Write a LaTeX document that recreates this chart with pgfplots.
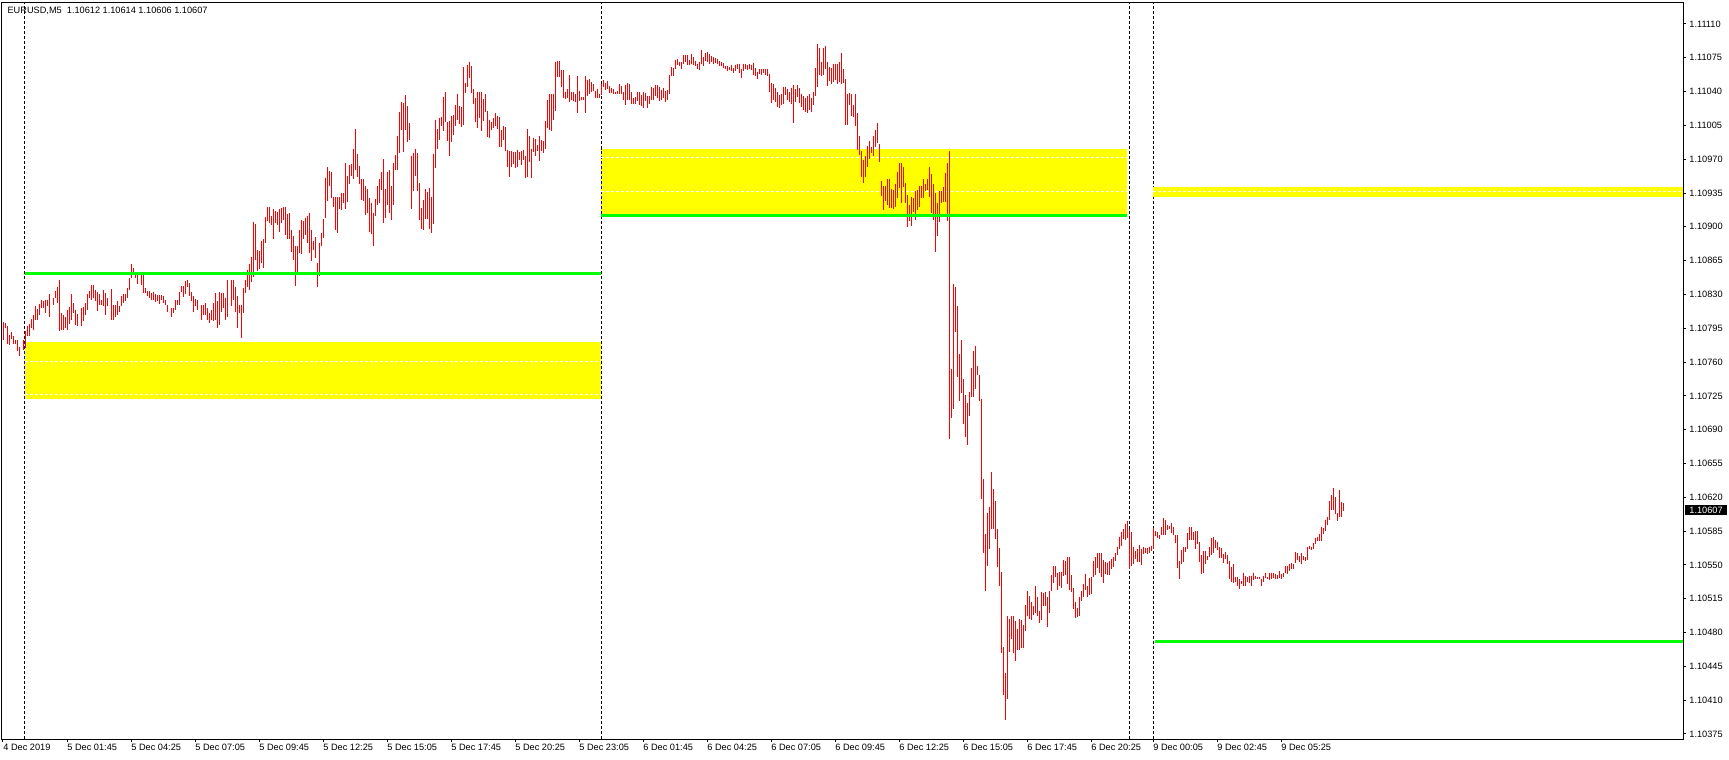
\documentclass[border=0pt]{standalone}
\usepackage{fontspec}
\setmainfont{Liberation Sans}
\usepackage{pgfplots}
\usepackage{pgfplotstable}
\pgfplotsset{compat=1.18}

\definecolor{mtred}{RGB}{255,0,0}
\definecolor{mtgreen}{RGB}{0,255,0}
\definecolor{mtyellow}{RGB}{255,255,0}
\newcommand{\mtfont}{\fontsize{4.6pt}{5pt}\selectfont}

% M5 bars: bar index, high, low (price = 1.1 + value/100000)
\pgfplotstableread{
i h l
0 801 783
1 800 795
2 797 779
3 788 778
4 791 784
5 787 779
6 783 779
7 783 771
8 776 766
10 783 773
11 792 775
12 797 787
13 799 787
14 805 795
15 809 793
16 818 804
17 815 804
18 820 809
19 824 816
20 823 816
21 824 811
22 824 818
23 830 807
25 826 819
26 834 826
27 838 821
28 845 792
29 811 793
30 809 793
31 807 795
32 814 793
33 817 799
34 830 804
35 821 811
36 814 798
37 810 797
39 816 797
40 817 802
41 821 809
42 830 814
43 834 826
44 840 824
45 840 826
46 835 823
47 833 813
48 830 819
49 824 819
50 835 818
51 831 809
52 826 818
54 836 804
55 819 804
56 819 807
57 823 809
58 818 812
59 828 818
60 830 821
61 830 823
62 837 826
63 847 835
64 861 847
65 857 850
66 852 847
67 850 841
69 850 840
70 850 832
71 837 832
72 834 828
73 834 826
74 831 824
75 833 824
76 830 822
77 829 823
78 829 820
79 829 824
80 828 821
81 824 819
82 819 812
84 816 807
85 816 811
86 824 814
87 824 819
88 833 819
89 839 833
90 839 827
91 844 830
92 845 838
93 842 828
94 833 823
95 828 812
96 825 818
97 824 814
99 819 804
100 819 809
101 821 809
102 816 804
103 811 800
104 814 804
105 821 802
106 831 804
107 823 795
108 833 798
109 831 812
110 832 816
111 826 804
112 845 807
114 845 818
115 845 824
116 838 812
117 828 795
118 819 811
119 819 785
120 837 811
121 845 832
122 855 838
123 861 835
124 869 843
125 905 848
126 903 866
127 876 854
128 875 856
129 885 863
130 887 857
131 910 883
132 921 906
133 920 904
134 911 902
135 918 887
136 916 904
137 915 902
138 918 895
139 919 904
140 920 907
141 921 892
142 913 887
143 914 887
144 897 874
145 891 866
146 880 839
147 880 850
148 897 873
149 907 872
150 906 887
151 909 892
152 911 883
153 914 873
154 897 865
155 885 876
156 889 868
157 863 838
158 883 849
159 894 880
160 908 888
161 951 909
162 962 927
163 958 942
164 957 930
165 931 921
166 931 897
167 931 894
168 931 918
169 935 917
170 935 925
171 966 918
172 953 926
173 964 944
174 965 953
175 981 949
176 1001 959
177 975 952
178 963 944
179 950 928
180 949 927
181 942 912
182 939 914
183 930 895
184 925 893
185 914 880
186 929 911
187 942 923
188 949 925
189 957 938
190 970 904
191 939 909
192 957 923
193 959 914
194 942 907
195 966 923
196 974 959
197 994 959
198 1019 976
199 1029 1000
200 1028 977
201 1036 1000
202 1025 988
203 1007 990
204 973 918
205 976 937
206 981 953
207 976 937
208 945 907
209 919 898
210 928 897
211 939 908
212 936 908
213 940 898
214 931 894
215 975 903
216 1011 961
217 1001 981
218 1013 990
219 1014 1004
220 1034 999
221 1040 1009
222 1008 989
223 1010 973
224 1015 988
225 1016 995
226 1026 1004
227 1037 1011
228 1025 1006
229 1024 1003
230 1065 1005
231 1049 1039
232 1068 1045
233 1071 1054
234 1066 1039
235 1043 1027
236 1033 1008
237 1040 1002
238 1040 1013
239 1040 999
240 1032 1010
241 1038 1019
242 1020 993
243 1011 992
244 1009 1000
245 1013 1002
246 1018 1004
247 1015 1001
248 1014 983
249 1000 983
250 1004 990
251 1003 978
252 980 962
253 978 952
254 979 962
255 977 965
256 977 961
257 980 962
258 977 969
259 979 964
260 980 969
261 973 951
262 1001 952
263 994 967
264 981 951
265 992 977
266 991 973
267 985 978
268 994 968
269 990 979
270 989 976
271 1010 981
272 1031 1002
273 1038 1000
274 1038 999
275 1038 1011
276 1071 1020
277 1072 1055
278 1072 1055
279 1062 1045
280 1062 1033
281 1040 1032
282 1043 1033
283 1057 1029
284 1040 1031
285 1040 1030
286 1037 1029
287 1056 1018
288 1041 1030
289 1034 1031
290 1034 1031
291 1056 1018
292 1052 1035
293 1053 1038
294 1050 1040
295 1048 1041
296 1041 1033
297 1043 1033
298 1038 1033
299 1048 1036
300 1052 1045
301 1049 1042
302 1051 1043
303 1046 1039
304 1044 1039
305 1043 1038
306 1040 1037
307 1041 1037
308 1048 1038
309 1046 1037
310 1040 1031
311 1047 1026
312 1049 1031
313 1048 1031
314 1040 1027
315 1033 1027
316 1034 1027
317 1040 1030
318 1040 1026
319 1036 1025
320 1040 1023
321 1039 1030
322 1035 1023
323 1035 1027
324 1045 1031
325 1044 1031
326 1047 1035
327 1047 1033
328 1045 1030
329 1042 1031
330 1044 1033
331 1041 1029
332 1042 1031
333 1057 1038
334 1065 1056
335 1064 1056
336 1073 1063
337 1074 1067
338 1071 1066
339 1071 1063
340 1078 1069
341 1078 1071
342 1078 1068
343 1073 1067
344 1079 1069
345 1076 1068
346 1072 1066
347 1069 1063
348 1071 1062
349 1083 1069
350 1076 1066
351 1080 1072
352 1081 1071
353 1079 1069
354 1077 1071
355 1076 1069
356 1075 1070
357 1074 1069
358 1072 1066
359 1071 1066
360 1070 1064
361 1066 1063
362 1066 1061
363 1065 1062
364 1067 1061
365 1064 1059
366 1068 1061
367 1069 1063
368 1069 1059
369 1063 1054
370 1069 1061
371 1069 1063
372 1068 1062
373 1069 1063
374 1067 1062
375 1070 1057
376 1064 1056
377 1060 1053
378 1063 1058
379 1063 1057
380 1063 1059
381 1063 1057
382 1063 1056
383 1058 1040
384 1049 1028
385 1048 1031
386 1044 1029
387 1040 1024
388 1036 1023
389 1037 1026
390 1045 1027
391 1045 1036
392 1043 1031
393 1040 1029
394 1044 1027
395 1047 1007
396 1043 1029
397 1047 1034
398 1044 1028
399 1038 1024
400 1035 1021
401 1033 1019
402 1035 1018
403 1037 1021
404 1033 1019
405 1040 1026
406 1064 1035
407 1089 1045
408 1085 1057
409 1071 1056
410 1085 1057
411 1087 1063
412 1071 1046
413 1065 1051
414 1064 1048
415 1069 1050
416 1069 1052
417 1069 1048
418 1071 1050
419 1080 1048
420 1063 1049
421 1053 1005
422 1038 1005
423 1039 1026
424 1037 1015
425 1026 1014
426 1038 1004
427 1018 980
428 994 974
429 978 952
430 969 945
431 973 952
432 984 962
433 989 970
434 983 976
435 994 973
436 1000 983
437 1007 987
438 986 967
439 947 932
440 942 917
441 942 927
442 949 923
443 949 919
444 939 919
445 938 918
446 944 921
447 957 930
448 966 940
449 966 925
450 962 941
451 945 925
452 933 900
453 923 906
454 931 901
455 930 915
456 937 907
457 938 917
458 942 921
459 942 930
460 949 930
461 944 937
462 949 938
463 962 931
464 955 914
465 944 907
466 935 874
467 925 890
468 937 905
469 937 925
470 941 926
471 956 926
472 966 906
473 978 680
474 753 702
475 841 711
476 838 791
477 818 745
478 768 720
479 783 728
480 742 696
481 726 682
482 718 674
483 729 704
484 754 724
485 771 724
486 777 732
487 756 747
488 747 720
489 722 618
490 639 562
491 582 523
492 604 549
493 610 566
494 646 587
495 629 587
496 616 577
497 587 548
498 568 528
499 543 459
500 465 415
501 438 389
502 497 411
503 494 460
504 497 473
505 497 459
506 492 451
507 484 462
508 494 462
509 493 464
510 488 464
511 508 482
512 523 497
513 518 494
514 512 493
515 507 498
516 528 500
517 517 497
518 502 490
519 522 493
520 521 507
521 522 507
522 517 486
523 523 500
524 540 523
525 549 531
526 549 538
527 542 524
528 543 528
529 543 526
530 555 539
531 554 540
532 558 530
533 558 524
534 540 522
535 526 504
536 512 495
537 505 496
538 517 497
539 523 513
540 530 517
541 541 524
542 528 517
543 536 519
544 538 520
545 554 537
546 558 540
547 562 547
548 562 542
549 562 537
550 555 531
551 553 541
552 552 540
553 554 540
554 556 546
555 558 548
556 562 554
557 569 560
558 579 566
559 584 570
560 587 577
561 592 576
562 595 578
563 587 546
564 584 549
565 569 551
566 564 556
567 566 553
568 571 553
569 566 550
570 569 561
571 568 562
572 568 561
573 569 562
574 570 564
575 588 566
576 585 580
577 584 578
578 581 577
579 589 581
580 599 581
581 596 581
582 591 586
583 590 587
584 593 583
585 589 581
586 581 573
587 581 547
588 554 535
589 565 551
590 569 553
591 569 563
592 583 566
593 589 576
594 589 576
595 584 576
596 585 566
597 585 572
598 574 553
599 560 541
600 564 542
601 564 551
602 559 555
603 569 558
604 578 560
605 579 562
606 576 568
607 574 565
608 569 557
609 568 557
610 561 552
611 563 556
612 560 551
613 554 535
614 548 532
615 551 531
616 538 532
617 537 528
618 535 525
619 533 530
620 542 528
621 539 528
622 537 532
623 539 531
624 539 528
625 542 534
626 539 535
627 538 535
628 537 535
629 535 528
630 539 532
631 542 536
632 537 535
633 542 534
634 542 535
635 542 536
636 541 535
637 540 535
638 544 536
639 541 535
640 542 537
641 549 542
642 549 541
643 551 544
644 552 546
645 551 546
646 563 552
647 562 555
648 559 553
649 562 551
650 559 555
651 558 554
652 569 555
653 570 566
654 569 565
655 573 566
656 578 572
657 579 575
658 582 575
659 589 575
660 588 582
661 597 585
662 600 591
663 616 597
664 622 607
665 630 607
666 620 603
667 604 595
668 628 600
669 615 600
670 614 606
}\bars

\begin{document}
\begin{tikzpicture}
\path[use as bounding box] (0,0) rectangle (864.5pt,380pt);
\begin{axis}[
  at={(1pt,10.5pt)}, anchor=south west, scale only axis,
  width=840.5pt, height=368pt,
  xmin=-0.5, xmax=840, ymin=369.8, ymax=1131.7,
  axis line style={line width=0.5pt, black},
  xtick={0,32,64,96,128,160,192,224,256,288,320,352,384,416,448,480,512,544,575,607,639},
  xticklabels={4 Dec 2019,5 Dec 01:45,5 Dec 04:25,5 Dec 07:05,5 Dec 09:45,5 Dec 12:25,5 Dec 15:05,5 Dec 17:45,5 Dec 20:25,5 Dec 23:05,6 Dec 01:45,6 Dec 04:25,6 Dec 07:05,6 Dec 09:45,6 Dec 12:25,6 Dec 15:05,6 Dec 17:45,6 Dec 20:25,9 Dec 00:05,9 Dec 02:45,9 Dec 05:25},
  ytick={375,410,445,480,515,550,585,620,655,690,725,760,795,830,865,900,935,970,1005,1040,1075,1110},
  yticklabels={1.10375,1.10410,1.10445,1.10480,1.10515,1.10550,1.10585,1.10620,1.10655,1.10690,1.10725,1.10760,1.10795,1.10830,1.10865,1.10900,1.10935,1.10970,1.11005,1.11040,1.11075,1.11110},
  xtick pos=left, ytick pos=right, yticklabel pos=right,
  tick align=outside, major tick length=1.5pt,
  tick style={black, line width=0.5pt},
  /pgf/number format/assume math mode=true,
  ticklabel style={font=\mtfont},
  xticklabel style={anchor=north west, inner sep=0pt, yshift=-1pt},
  yticklabel style={anchor=west, inner sep=0pt, xshift=1.5pt},
]
% period separators
\addplot[black, line width=0.5pt, dash pattern=on 1.5pt off 1pt] coordinates {(11,369.8) (11,1131.7)};
\addplot[black, line width=0.5pt, dash pattern=on 1.5pt off 1pt] coordinates {(299,369.8) (299,1131.7)};
\addplot[black, line width=0.5pt, dash pattern=on 1.5pt off 1pt] coordinates {(563,369.8) (563,1131.7)};
\addplot[black, line width=0.5pt, dash pattern=on 1.5pt off 1pt] coordinates {(575,369.8) (575,1131.7)};

% zones
\addplot[fill=mtyellow, draw=none] coordinates {(11,721.3) (299,721.3) (299,781) (11,781)} -- cycle;
\addplot[fill=mtyellow, draw=none] coordinates {(299,913) (562,913) (562,981) (299,981)} -- cycle;
\addplot[fill=mtyellow, draw=none] coordinates {(575,931) (840,931) (840,941.5) (575,941.5)} -- cycle;
\addplot[blue, line width=0.5pt, dash pattern=on 1.5pt off 1pt] coordinates {(11,721.3) (11,781)};
\addplot[blue, line width=0.5pt, dash pattern=on 1.5pt off 1pt] coordinates {(299,913) (299,981)};
\addplot[white, line width=0.5pt, dash pattern=on 1.5pt off 1pt] coordinates {(11,761) (299,761)};
\addplot[white, line width=0.5pt, dash pattern=on 1.5pt off 1pt] coordinates {(11,726) (299,726)};
\addplot[white, line width=0.5pt, dash pattern=on 1.5pt off 1pt] coordinates {(299,971.5) (562,971.5)};
\addplot[white, line width=0.5pt, dash pattern=on 1.5pt off 1pt] coordinates {(299,936.3) (562,936.3)};
\addplot[white, line width=0.5pt, dash pattern=on 1.5pt off 1pt] coordinates {(575,936.3) (840,936.3)};

% bars
\addplot[draw=none, mark=none,
  error bars/.cd, y dir=minus, y explicit, error mark=none,
  error bar style={draw=mtred, solid, line width=0.45pt}]
  table[x=i, y=h, y error minus expr=\thisrow{h}-\thisrow{l}] {\bars};

% levels
\addplot[mtgreen, line width=1.1pt] coordinates {(11,851.7) (299,851.7)};
\addplot[mtgreen, line width=1.1pt] coordinates {(299,911.8) (562,911.8)};
\addplot[mtgreen, line width=1.1pt] coordinates {(576,470.8) (840,470.8)};

\coordinate (hdr) at (rel axis cs:0,1);
\coordinate (last) at (axis cs:840,607);
\end{axis}
\node[anchor=west, inner sep=0pt, font=\mtfont, xshift=2.6pt, yshift=-4pt] at (hdr)
  {EURUSD,M5\ \ 1.10612 1.10614 1.10606 1.10607};
\node[anchor=west, fill=black, text=white, font=\mtfont, inner xsep=2pt, inner ysep=0.7pt, xshift=1pt] at (last) {1.10607};
\end{tikzpicture}
\end{document}
